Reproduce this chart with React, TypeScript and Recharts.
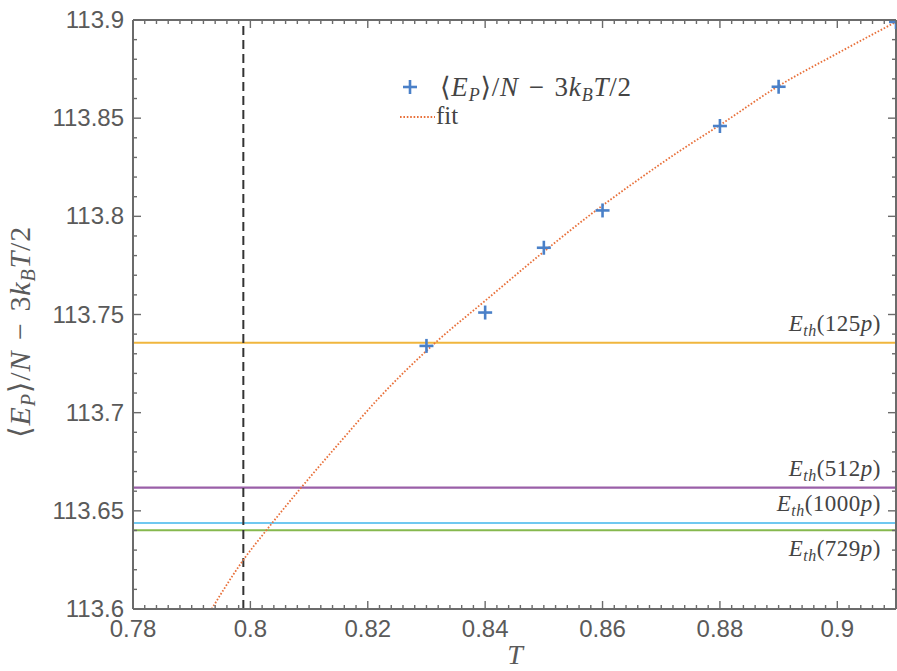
import React from 'react';
import { ComposedChart, XAxis, YAxis, Line, Scatter, ReferenceLine } from 'recharts';

// ---- data ----
const pointT = [0.83, 0.84, 0.85, 0.86, 0.88, 0.89, 0.91];
const pointE = [113.734, 113.751, 113.784, 113.803, 113.846, 113.866, 113.899];

const fitT = [0.7934, 0.7988, 0.8027, 0.8087, 0.815, 0.8216, 0.8315, 0.84, 0.85, 0.858, 0.866, 0.873, 0.88, 0.89, 0.9, 0.91];
const fitE = [113.6, 113.625, 113.64, 113.662, 113.684, 113.7065, 113.7356, 113.757, 113.782, 113.801, 113.8185, 113.833, 113.8465, 113.8664, 113.883, 113.899];

const thresholdNames = ['125', '512', '1000', '729'];
const thresholdValues = [113.7356, 113.6618, 113.6438, 113.6401];
const thresholdColors = ['#F0B63E', '#9A5FA8', '#70C8F0', '#86B84E'];
const thresholdLabelSide = ['above', 'above', 'above', 'below'];

const criticalT = 0.7988;

const xMajorTicks = [0.78, 0.8, 0.82, 0.84, 0.86, 0.88, 0.9];
const xTickLabels = ['0.78', '0.8', '0.82', '0.84', '0.86', '0.88', '0.9'];
const yMajorTicks = [113.6, 113.65, 113.7, 113.75, 113.8, 113.85, 113.9];
const yTickLabels = ['113.6', '113.65', '113.7', '113.75', '113.8', '113.85', '113.9'];

const xMinorStep = 0.002;
const yMinorStep = 0.01;
const xDomain = [0.78, 0.91];
const yDomain = [113.6, 113.9];

// ---- derived ----
const xAllTicks: number[] = [];
for (let i = 0; i <= Math.round((xDomain[1] - xDomain[0]) / xMinorStep); i++) {
  xAllTicks.push(+(xDomain[0] + i * xMinorStep).toFixed(4));
}
const yAllTicks: number[] = [];
for (let i = 0; i <= Math.round((yDomain[1] - yDomain[0]) / yMinorStep); i++) {
  yAllTicks.push(+(yDomain[0] + i * yMinorStep).toFixed(4));
}
const pointData = pointT.map((t, i) => ({ T: t, E: pointE[i] }));
const fitData = fitT.map((t, i) => ({ T: t, E: fitE[i] }));

const FRAME = '#6b6b6b';
const LABEL = '#5a5a5a';
const SANS = '"Liberation Sans", Arial, sans-serif';
const SERIF = '"Liberation Serif", "DejaVu Serif", serif';

const majorIdx = (arr: number[], v: number) => arr.findIndex((m) => Math.abs(m - v) < 1e-6);

const BottomTick = (p: any) => {
  const { x, y, payload } = p;
  const idx = majorIdx(xMajorTicks, payload.value);
  const len = idx >= 0 ? 8 : 4;
  return (
    <g>
      <line x1={x} x2={x} y1={y} y2={y - len} stroke={FRAME} strokeWidth={1.4} />
      {idx >= 0 && (
        <text x={x} y={y + 28} textAnchor="middle" fontFamily={SANS} fontSize={24} fill={LABEL}>
          {xTickLabels[idx]}
        </text>
      )}
    </g>
  );
};
const TopTick = (p: any) => {
  const { x, y, payload } = p;
  const idx = majorIdx(xMajorTicks, payload.value);
  const len = idx >= 0 ? 8 : 4;
  return <line x1={x} x2={x} y1={y} y2={y + len} stroke={FRAME} strokeWidth={1.4} />;
};
const LeftTick = (p: any) => {
  const { x, y, payload } = p;
  const idx = majorIdx(yMajorTicks, payload.value);
  const len = idx >= 0 ? 8 : 4;
  return (
    <g>
      <line x1={x} x2={x + len} y1={y} y2={y} stroke={FRAME} strokeWidth={1.4} />
      {idx >= 0 && (
        <text x={x - 9} y={y + 8} textAnchor="end" fontFamily={SANS} fontSize={24} fill={LABEL}>
          {yTickLabels[idx]}
        </text>
      )}
    </g>
  );
};
const RightTick = (p: any) => {
  const { x, y, payload } = p;
  const idx = majorIdx(yMajorTicks, payload.value);
  const len = idx >= 0 ? 8 : 4;
  return <line x1={x} x2={x - len} y1={y} y2={y} stroke={FRAME} strokeWidth={1.4} />;
};

const Plus = (p: any) => {
  const { cx, cy } = p;
  if (cx == null || cy == null) return null;
  const r = 7;
  return (
    <g stroke="#4A80C8" strokeWidth={2.6}>
      <line x1={cx - r} x2={cx + r} y1={cy} y2={cy} />
      <line x1={cx} x2={cx} y1={cy - r} y2={cy + r} />
    </g>
  );
};

const EthLabel = (p: any) => {
  const { viewBox, name, side } = p;
  if (!viewBox) return null;
  const x = viewBox.x + viewBox.width - 15;
  const y = side === 'below' ? viewBox.y + 26 : viewBox.y - 12;
  return (
    <text x={x} y={y} textAnchor="end" fontFamily={SERIF} fontSize={23} fill="#444" letterSpacing={0.5}>
      <tspan fontStyle="italic">E</tspan>
      <tspan fontStyle="italic" fontSize={16} dy={5}>th</tspan>
      <tspan dy={-5}>({name}</tspan>
      <tspan fontStyle="italic">p</tspan>
      <tspan>)</tspan>
    </text>
  );
};

const EnergyLabel = ({ sub }: { sub: number }) => (
  <>
    <tspan>⟨</tspan>
    <tspan fontStyle="italic">E</tspan>
    <tspan fontStyle="italic" fontSize={sub} dy={5}>P</tspan>
    <tspan dy={-5}>⟩/</tspan>
    <tspan fontStyle="italic">N</tspan>
    <tspan>{'\u2004−\u20043'}</tspan>
    <tspan fontStyle="italic">k</tspan>
    <tspan fontStyle="italic" fontSize={sub} dy={5}>B</tspan>
    <tspan fontStyle="italic" dy={-5}>T</tspan>
    <tspan>/2</tspan>
  </>
);

const LegendBlock = ({ x, y }: { x: number; y: number }) => (
  <g transform={`translate(${x},${y})`}>
    <g stroke="#4A80C8" strokeWidth={2.6}>
      <line x1={0} x2={14} y1={17} y2={17} />
      <line x1={7} x2={7} y1={10} y2={24} />
    </g>
    <text x={37} y={26} fontFamily={SERIF} fontSize={27} fill="#444" letterSpacing={0.8}>
      <EnergyLabel sub={18} />
    </text>
    <line x1={-3} x2={32} y1={47} y2={47} stroke="#E8703A" strokeWidth={1.8} strokeDasharray="1.6 1.8" />
    <text x={33} y={54} fontFamily={SERIF} fontSize={25} fill="#444">fit</text>
  </g>
);

export default function App() {
  return (
    <div style={{ position: 'absolute', left: 0, top: 0, width: 897, height: 671, background: '#fff' }}>
      <ComposedChart width={897} height={671} margin={{ top: 19, right: 0, bottom: 0, left: 0 }}>
        <XAxis
          xAxisId="b"
          dataKey="T"
          type="number"
          domain={xDomain}
          ticks={xAllTicks}
          interval={0}
          allowDataOverflow
          orientation="bottom"
          height={62}
          tickSize={0}
          tickMargin={0}
          tickLine={false}
          axisLine={{ stroke: FRAME, strokeWidth: 2 }}
          tick={<BottomTick />}
        />
        <XAxis
          xAxisId="t"
          dataKey="T"
          type="number"
          domain={xDomain}
          ticks={xAllTicks}
          interval={0}
          allowDataOverflow
          orientation="top"
          height={1}
          tickSize={0}
          tickMargin={0}
          tickLine={false}
          axisLine={{ stroke: FRAME, strokeWidth: 2 }}
          tick={<TopTick />}
        />
        <YAxis
          yAxisId="l"
          type="number"
          domain={yDomain}
          ticks={yAllTicks}
          interval={0}
          allowDataOverflow
          orientation="left"
          width={133}
          tickSize={0}
          tickMargin={0}
          tickLine={false}
          axisLine={{ stroke: FRAME, strokeWidth: 2 }}
          tick={<LeftTick />}
        />
        <YAxis
          yAxisId="r"
          type="number"
          domain={yDomain}
          ticks={yAllTicks}
          interval={0}
          allowDataOverflow
          orientation="right"
          width={1}
          tickSize={0}
          tickMargin={0}
          tickLine={false}
          axisLine={{ stroke: FRAME, strokeWidth: 2 }}
          tick={<RightTick />}
        />
        {thresholdValues.map((v, i) => (
          <ReferenceLine
            key={thresholdNames[i]}
            xAxisId="b"
            yAxisId="l"
            y={v}
            stroke={thresholdColors[i]}
            strokeWidth={2.2}
            label={<EthLabel name={thresholdNames[i]} side={thresholdLabelSide[i]} />}
          />
        ))}
        <ReferenceLine xAxisId="b" yAxisId="l" x={criticalT} stroke="#333" strokeWidth={2} strokeDasharray="9 5" />
        <Line
          xAxisId="b"
          yAxisId="l"
          data={fitData}
          dataKey="E"
          name="fit"
          type="monotone"
          stroke="#E8703A"
          strokeWidth={1.8}
          strokeDasharray="1.6 1.8"
          dot={false}
          activeDot={false}
          isAnimationActive={false}
        />
        <Scatter
          xAxisId="b"
          yAxisId="l"
          data={pointData}
          dataKey="E"
          name="data"
          shape={<Plus />}
          isAnimationActive={false}
        />
        <LegendBlock x={403} y={70} />
        <text x={30} y={332} transform="rotate(-90 30 332)" textAnchor="middle" fontFamily={SERIF} fontSize={30} fill={LABEL} letterSpacing={0.8}>
          <EnergyLabel sub={20} />
        </text>
        <text x={515} y={664} textAnchor="middle" fontFamily={SERIF} fontSize={28} fontStyle="italic" fill={LABEL}>
          T
        </text>
      </ComposedChart>
    </div>
  );
}
